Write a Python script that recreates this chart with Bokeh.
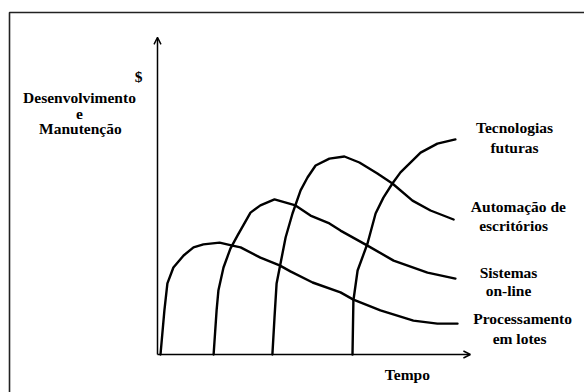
from bokeh.plotting import figure
from bokeh.models import Range1d, Arrow, OpenHead, ColumnDataSource
from bokeh.core.properties import value
from bokeh.embed import file_html
from bokeh.resources import INLINE

# ---- data (time units vs cost units) ----
lotes_x = [1.0, 2.3, 3.3, 5.3, 8.7, 12.0, 15.3, 20.7, 25.0, 27.7, 34.3, 40.7, 44.3, 51.7, 61.0, 65.3, 74.3, 85.3, 93.3, 100.0]
lotes_y = [0.0, 14.7, 23.7, 29.0, 33.0, 35.7, 36.7, 37.3, 36.3, 35.7, 32.3, 29.7, 27.7, 24.0, 20.7, 18.3, 14.7, 11.3, 10.3, 10.3]

online_x = [18.7, 19.7, 20.3, 22.0, 24.3, 26.7, 31.0, 34.3, 39.0, 46.0, 51.0, 57.3, 61.0, 70.0, 78.7, 90.0, 99.3]
online_y = [0.0, 14.7, 21.3, 29.0, 35.3, 39.7, 47.3, 49.7, 51.7, 49.7, 46.3, 43.7, 41.3, 36.3, 31.3, 27.3, 25.3]

autom_x = [38.3, 39.0, 39.7, 41.0, 42.7, 45.0, 47.7, 50.0, 52.7, 57.3, 62.3, 67.3, 73.3, 78.3, 85.0, 91.0, 98.7]
autom_y = [0.0, 12.3, 23.7, 30.3, 39.0, 47.0, 54.7, 59.0, 63.0, 65.3, 66.0, 64.0, 60.3, 57.0, 51.3, 48.0, 45.0]

futuras_x = [65.0, 65.3, 66.7, 70.0, 72.7, 75.3, 78.3, 81.0, 87.7, 93.3, 99.3]
futuras_y = [0.0, 18.0, 28.0, 37.0, 47.0, 52.3, 57.0, 60.7, 67.3, 70.3, 71.7]

series_labels = ["Tecnologias\nfuturas", "Automação de\nescritórios", "Sistemas\non-line", "Processamento\nem lotes"]
y_title = ["$", "Desenvolvimento", "e", "Manutenção"]
x_title = "Tempo"

# ---- layout ----
X0, X1 = -52.333, 142.333
Y0, Y1 = -12.667, 118.0
FONT = value("'Liberation Serif', 'Times New Roman', serif")
FSIZE = "15.5px"

p = figure(width=584, height=392, x_range=Range1d(X0, X1), y_range=Range1d(Y0, Y1),
           output_backend="svg", toolbar_location=None,
           x_axis_location=None, y_axis_location=None, min_border=0)
p.grid.grid_line_color = None
p.outline_line_color = None
p.background_fill_color = "white"
p.border_fill_color = "white"

# outer frame (left and top edges visible)
p.line(x=[-49.33, -49.33, 160], y=[-20, 114, 114], line_width=1.6, line_color="#222222")

# axes with arrows
p.add_layout(Arrow(end=OpenHead(size=7, line_width=1.4, line_color="black"),
                   x_start=0, y_start=0, x_end=0, y_end=105.7, line_width=1.5, line_color="black"))
p.add_layout(Arrow(end=OpenHead(size=7, line_width=1.4, line_color="black"),
                   x_start=0, y_start=0, x_end=104.3, y_end=0, line_width=1.5, line_color="black"))

for xs, ys in [(lotes_x, lotes_y), (online_x, online_y), (autom_x, autom_y), (futuras_x, futuras_y)]:
    p.line(x=xs, y=ys, line_width=2.4, line_color="black", line_join="round", line_cap="round")

# series labels
lines = []
for s in series_labels:
    lines.extend(s.split("\n"))
lab_x = [119.0, 119.0, 120.3, 118.7, 117.0, 117.0, 121.7, 120.7]
lab_y = [75.7, 69.0, 49.3, 43.0, 27.3, 21.3, 12.0, 5.3]
src = ColumnDataSource(dict(x=lab_x, y=lab_y, t=lines))
p.text(x="x", y="y", text="t", source=src, text_font=FONT, text_font_style="bold",
       text_font_size=FSIZE, text_align="center", text_baseline="middle", text_color="black")

# y title
ysrc = ColumnDataSource(dict(x=[-6.3, -26.0, -26.0, -25.7], y=[92.7, 85.7, 80.3, 75.3], t=y_title))
p.text(x="x", y="y", text="t", source=ysrc, text_font=FONT, text_font_style="bold",
       text_font_size=FSIZE, text_align="center", text_baseline="middle", text_color="black")

# x title
p.text(x=[83.3], y=[-6.7], text=[x_title], text_font=FONT, text_font_style="bold",
       text_font_size=FSIZE, text_align="center", text_baseline="middle", text_color="black")

open("out.html", "w").write(file_html(p, INLINE))
